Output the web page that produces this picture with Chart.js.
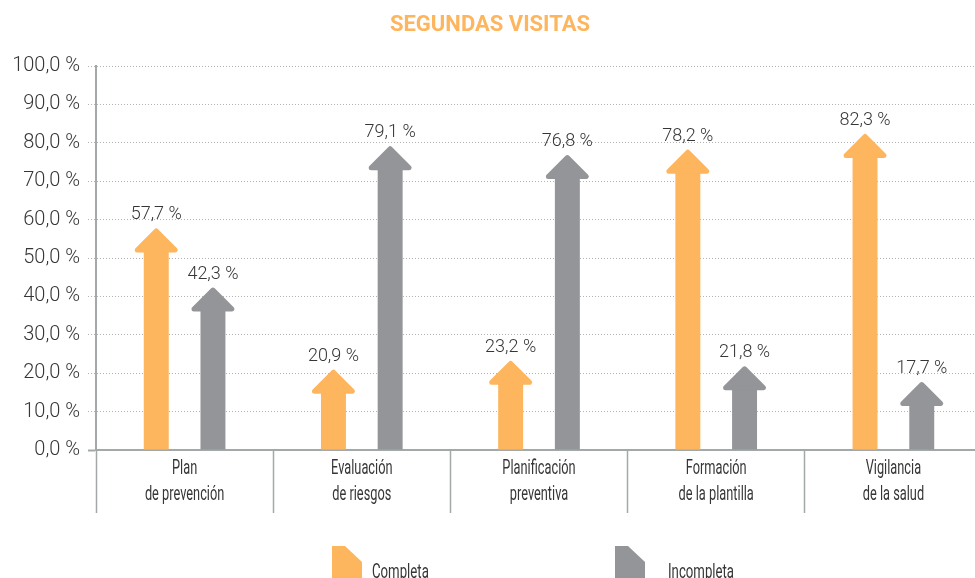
<!DOCTYPE html>
<html>
<head>
<meta charset="utf-8">
<script src="https://cdn.jsdelivr.net/npm/chart.js@4/dist/chart.umd.min.js"></script>
<style>
    html, body { margin: 0; padding: 0; background: #fff; overflow: hidden; }
    #chart { display: block; }
</style>
</head>
<body>
<canvas id="chart" width="982" height="578"></canvas>
<script>
// data
const chartTitle = "SEGUNDAS VISITAS";
const categories = [
    ["Plan", "de prevención"],
    ["Evaluación", "de riesgos"],
    ["Planificación", "preventiva"],
    ["Formación", "de la plantilla"],
    ["Vigilancia", "de la salud"]
];
const seriesNames = ["Completa", "Incompleta"];
const completa = [57.7, 20.9, 23.2, 78.2, 82.3];
const incompleta = [42.3, 79.1, 76.8, 21.8, 17.7];
const yTicks = [0, 10, 20, 30, 40, 50, 60, 70, 80, 90, 100];

const ORANGE = "#fdb55e";
const GREY = "#939598";
const AXIS = "#a3a9a9";
const TEXT = "#363636";

const fmt = v => v.toFixed(1).replace(".", ",") + " %";

// no condensed font installed, so squeeze Roboto sideways
function narrowText(ctx, text, x, y, size, squeeze, align) {
    ctx.save();
    ctx.font = size + "px Roboto, sans-serif";
    ctx.textAlign = align;
    ctx.textBaseline = "alphabetic";
    ctx.translate(x, y);
    ctx.scale(squeeze, 1);
    ctx.fillText(text, 0, 0);
    ctx.restore();
}

// draws every bar as an arrow, plus its value above the tip
const arrowPlugin = {
    id: "arrows",
    beforeDatasetDraw() { return false; },
    afterDatasetsDraw(chart) {
        const ctx = chart.ctx;
        chart.data.datasets.forEach((ds, i) => {
            const meta = chart.getDatasetMeta(i);
            meta.data.forEach((bar, j) => {
                const w = bar.width, x = bar.x, top = bar.y, base = bar.base;
                const r = 2.5, hw = w * 0.76;
                ctx.save();
                ctx.fillStyle = ds.backgroundColor;
                ctx.strokeStyle = ds.backgroundColor;
                ctx.fillRect(x - w / 2, top + hw, w, base - top - hw);
                ctx.beginPath();
                ctx.moveTo(x, top + r);
                ctx.lineTo(x + hw, top + r + hw);
                ctx.lineTo(x - hw, top + r + hw);
                ctx.closePath();
                ctx.lineWidth = r * 2;
                ctx.lineJoin = "round";
                ctx.fill();
                ctx.stroke();
                ctx.fillStyle = TEXT;
                ctx.font = "300 18px Roboto, sans-serif";
                ctx.textAlign = "center";
                ctx.textBaseline = "alphabetic";
                ctx.fillText(fmt(ds.data[j]), x, top - 9);
                ctx.restore();
            });
        });
    }
};

// title, category labels and the chamfered legend boxes
const decorPlugin = {
    id: "decor",
    afterDraw(chart) {
        const ctx = chart.ctx;
        ctx.save();
        ctx.fillStyle = ORANGE;
        ctx.font = "bold 22px Roboto, sans-serif";
        ctx.textAlign = "center";
        ctx.textBaseline = "middle";
        ctx.fillText(chartTitle, 490, 25);

        ctx.fillStyle = TEXT;
        const xs = chart.scales.x;
        categories.forEach((lines, j) => {
            const cx = xs.getPixelForValue(j);
            lines.forEach((t, k) => {
                narrowText(ctx, t, cx, xs.top + 24 + k * 26, 20, 0.64, "center");
            });
        });

        const boxX = [332, 615];
        const textX = [372, 668];
        chart.data.datasets.forEach((ds, i) => {
            const bx = boxX[i], by = 546;
            ctx.fillStyle = ds.backgroundColor;
            ctx.beginPath();
            ctx.moveTo(bx, by);
            ctx.lineTo(bx + 13, by);
            ctx.lineTo(bx + 30, by + 16);
            ctx.lineTo(bx + 30, by + 34);
            ctx.lineTo(bx, by + 34);
            ctx.closePath();
            ctx.fill();
            ctx.fillStyle = TEXT;
            narrowText(ctx, ds.label, textX[i], 578, 20, 0.66, "left");
        });
        ctx.restore();
    }
};

new Chart(document.getElementById("chart"), {
    type: "bar",
    data: {
        labels: categories,
        datasets: [
            { label: seriesNames[0], data: completa, backgroundColor: ORANGE },
            { label: seriesNames[1], data: incompleta, backgroundColor: GREY }
        ]
    },
    options: {
        responsive: false,
        animation: false,
        events: [],
        categoryPercentage: 0.64,
        barPercentage: 0.44,
        layout: { padding: { top: 66, right: 0, bottom: 0, left: 0 } },
        plugins: {
            legend: { display: false },
            title: { display: false },
            tooltip: { enabled: false }
        },
        scales: {
            x: {
                afterFit: s => { s.height = 128; },
                grid: {
                    offset: true,
                    drawOnChartArea: false,
                    drawTicks: true,
                    tickLength: 63,
                    tickColor: AXIS,
                    tickWidth: 1.5
                },
                border: { color: AXIS, width: 2 },
                ticks: { display: false }
            },
            y: {
                min: 0,
                max: 100,
                afterFit: s => { s.width = 96; },
                afterBuildTicks: s => { s.ticks = yTicks.map(v => ({ value: v })); },
                grid: {
                    color: "#b3b3b3",
                    lineWidth: 1,
                    tickLength: 8,
                    tickColor: c => (c.tick && c.tick.value === 0 ? AXIS : "#b3b3b3"),
                    tickWidth: c => (c.tick && c.tick.value === 0 ? 2 : 1),
                    tickBorderDash: c => (c.tick && c.tick.value === 0 ? [] : [1, 2])
                },
                border: {
                    color: AXIS,
                    width: 2,
                    dash: c => (c.tick && c.tick.value === 0 ? [] : [1, 2])
                },
                ticks: {
                    padding: 8,
                    color: TEXT,
                    font: { family: "Roboto, sans-serif", size: 20, weight: 300 },
                    callback: v => fmt(v)
                }
            }
        }
    },
    plugins: [arrowPlugin, decorPlugin]
});
</script>
</body>
</html>
